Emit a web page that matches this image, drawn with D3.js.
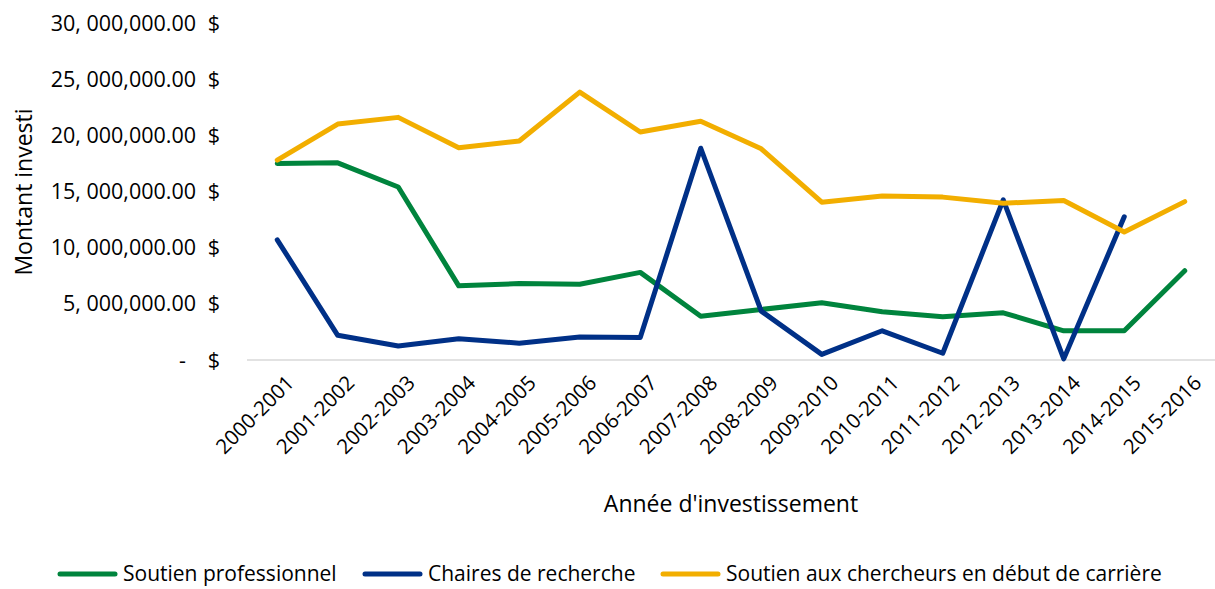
<!DOCTYPE html>
<html>
<head>
<meta charset="utf-8">
<script src="https://cdn.jsdelivr.net/npm/d3@7"></script>
<style>
  body { margin: 0; background: #fff; }
  svg text { font-family: "Open Sans", "Noto Sans", sans-serif; fill: #000; }
</style>
</head>
<body>
<svg id="chart"></svg>
<script>
// années d'investissement
const annees = ["2000-2001","2001-2002","2002-2003","2003-2004","2004-2005","2005-2006",
  "2006-2007","2007-2008","2008-2009","2009-2010","2010-2011","2011-2012",
  "2012-2013","2013-2014","2014-2015","2015-2016"];

// montants (en $)
const soutienPro = [17500000,17550000,15400000,6600000,6800000,6750000,7800000,3900000,
  4500000,5100000,4300000,3850000,4200000,2600000,2600000,7950000];
const chaires = [10700000,2200000,1250000,1900000,1500000,2050000,2000000,18850000,
  4350000,500000,2600000,600000,14250000,100000,12750000,null];
const debutCarriere = [17800000,21000000,21600000,18900000,19500000,23850000,20300000,21250000,
  18800000,14050000,14600000,14500000,13950000,14200000,11400000,14100000];

const yTicks = [0,5000000,10000000,15000000,20000000,25000000,30000000];
const yTickLabels = ["-","5, 000,000.00","10, 000,000.00","15, 000,000.00",
  "20, 000,000.00","25, 000,000.00","30, 000,000.00"];

const series = [
  { nom: "Soutien professionnel", valeurs: soutienPro, couleur: "#00843d" },
  { nom: "Chaires de recherche", valeurs: chaires, couleur: "#003087" },
  { nom: "Soutien aux chercheurs en début de carrière", valeurs: debutCarriere, couleur: "#f2ae00" }
];

const width = 1215, height = 589;
const svg = d3.select("#chart").attr("width", width).attr("height", height);

const x = d3.scalePoint().domain(annees).range([247, 1215]).padding(0.5);
const y = d3.scaleLinear().domain([0, 30000000]).range([360, 23]);

// ligne de base
svg.append("line")
  .attr("x1", 247).attr("x2", 1215)
  .attr("y1", y(0)).attr("y2", y(0))
  .attr("stroke", "#d9d9d9").attr("stroke-width", 1.5);

// étiquettes de l'axe Y
const yAxe = svg.append("g");
yTicks.forEach((t, i) => {
  yAxe.append("text")
    .attr("x", i === 0 ? 186 : 196)
    .attr("y", y(t))
    .attr("dy", "0.35em")
    .attr("text-anchor", "end")
    .style("font-size", "21.5px")
    .text(yTickLabels[i]);
  yAxe.append("text")
    .attr("x", 220)
    .attr("y", y(t))
    .attr("dy", "0.35em")
    .attr("text-anchor", "end")
    .style("font-size", "21.5px")
    .text("$");
});

// étiquettes de l'axe X
svg.append("g").selectAll("text")
  .data(annees)
  .enter()
  .append("text")
  .attr("transform", d => `translate(${x(d) + 8},${374}) rotate(-45)`)
  .attr("text-anchor", "end")
  .attr("dy", "0.7em")
  .style("font-size", "20.5px")
  .text(d => d);

// titres des axes
svg.append("text")
  .attr("transform", "translate(32,192) rotate(-90)")
  .attr("text-anchor", "middle")
  .style("font-size", "23px")
  .text("Montant investi");

svg.append("text")
  .attr("x", 731).attr("y", 512)
  .attr("text-anchor", "middle")
  .style("font-size", "23px")
  .text("Année d'investissement");

// courbes
const ligne = d3.line()
  .defined(d => d != null)
  .x((d, i) => x(annees[i]))
  .y(d => y(d));

svg.append("g").selectAll("path")
  .data(series)
  .enter()
  .append("path")
  .attr("fill", "none")
  .attr("stroke", d => d.couleur)
  .attr("stroke-width", 5)
  .attr("stroke-linejoin", "round")
  .attr("stroke-linecap", "round")
  .attr("d", d => ligne(d.valeurs));

// légende
const legendeX = [60, 365, 663];
const legende = svg.append("g");
series.forEach((s, i) => {
  legende.append("line")
    .attr("x1", legendeX[i]).attr("x2", legendeX[i] + 55)
    .attr("y1", 574).attr("y2", 574)
    .attr("stroke", s.couleur).attr("stroke-width", 5)
    .attr("stroke-linecap", "round");
  legende.append("text")
    .attr("x", legendeX[i] + 63).attr("y", 574)
    .attr("dy", "0.35em")
    .style("font-size", "21px")
    .text(s.nom);
});
</script>
</body>
</html>
